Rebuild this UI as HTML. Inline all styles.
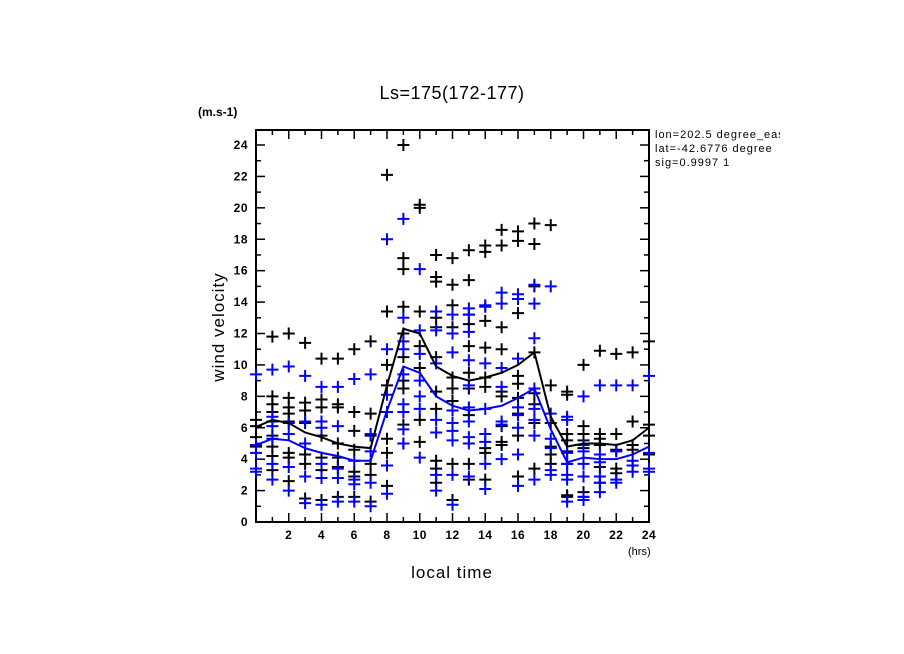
<!DOCTYPE html>
<html><head><meta charset="utf-8"><style>
html,body{margin:0;padding:0;background:#fff;width:904px;height:654px;overflow:hidden}
svg{display:block;font-family:"Liberation Sans",sans-serif}
</style></head><body>
<svg id="chart" width="904" height="654" viewBox="0 0 904 654">
<text x="452" y="99" font-size="18" letter-spacing="0.5" text-anchor="middle">Ls=175(172-177)</text>
<text x="198" y="116" font-size="12" font-weight="bold">(m.s-1)</text>
<svg x="652" y="124" width="128" height="50" overflow="hidden">
<text x="3" y="14" font-size="11" letter-spacing="1">lon=202.5 degree_east</text>
<text x="3" y="28" font-size="11" letter-spacing="1">lat=-42.6776 degree</text>
<text x="3" y="42" font-size="11" letter-spacing="1">sig=0.9997 1</text>
</svg>
<text x="628" y="555" font-size="11">(hrs)</text>
<text x="452" y="578" font-size="17" letter-spacing="1" text-anchor="middle">local time</text>
<text x="0" y="0" font-size="17" letter-spacing="1" text-anchor="middle" transform="translate(224,327) rotate(-90)">wind velocity</text>
<g id="axes"></g><g id="marks"></g>
</svg>
<script>
const hours=[0,1,2,3,4,5,6,7,8,9,10,11,12,13,14,15,16,17,18,19,20,21,22,23,24];
const blackMean=[6.05,6.5,6.3,5.7,5.4,5.0,4.8,4.7,8.7,12.3,12.0,9.9,9.3,9.0,9.2,9.5,10.0,10.8,6.7,4.8,5.0,5.0,4.9,5.2,6.0];
const blueMean=[4.9,5.3,5.2,4.7,4.4,4.2,3.9,3.9,7.1,9.9,9.5,8.0,7.4,7.1,7.2,7.4,7.9,8.5,5.9,3.8,4.1,4.0,4.0,4.3,4.8];
const blackPts=[
[6.5,6.1,5.4,4.8],[11.8,8.0,7.5,7.0,6.4,5.5,4.8,4.2,3.3],[12.0,7.9,7.3,6.9,6.4,4.4,4.1,2.6],[11.4,7.6,7.1,6.3,4.3,3.7,1.5],
[10.4,7.8,7.3,5.5,4.1,3.3,1.4],[10.4,7.5,7.3,5.0,4.1,3.5,1.6],[11.0,7.0,5.8,4.6,3.2,2.9,1.6],[11.5,6.9,5.5,3.7,3.0,1.3],
[22.1,13.4,10.0,8.7,5.3,4.4,2.3],[24.0,16.8,16.1,13.7,12.0,10.5,9.0,8.5,6.2,5.0],[20.2,20.0,13.4,11.2,9.8,6.5,5.1],
[17.0,15.6,15.3,13.0,12.4,10.5,8.3,7.2,3.9,3.4,2.5],[16.8,15.1,13.8,12.4,9.2,8.5,7.7,3.7,1.4],[17.3,15.4,13.2,12.6,11.2,9.5,8.5,6.8,3.7,2.7],
[17.6,17.2,12.8,11.1,9.2,8.6,4.7,4.4,2.7],[18.6,17.6,12.4,11.0,8.3,8.0,6.1,5.1,4.9],[18.5,17.9,13.3,9.3,8.8,7.9,6.9,5.5,2.9],
[19.0,17.7,15.0,10.8,8.2,7.5,6.3,3.4],[18.9,8.7,6.3,4.8,4.3,3.7],[8.3,8.1,5.6,5.2,4.5,3.7,1.7,1.6],[10.0,6.1,5.6,5.2,4.7,1.9,1.6],
[10.9,5.6,5.3,4.9,3.5,2.5],[10.7,5.6,4.6,3.4,3.1],[10.8,6.4,4.9,4.6,3.6],[11.5,6.2,5.5,4.3]];
const bluePts=[
[9.4,4.9,4.4,3.4,3.2],[9.7,6.7,6.1,5.3,3.7,2.7],[9.9,6.3,5.6,3.5,2.0],[9.3,6.4,5.0,2.9,1.2],[8.6,6.4,6.0,3.7,2.8,1.1],
[8.6,6.1,3.4,2.8,1.3],[9.1,3.9,2.7,2.4,1.3],[9.4,5.6,4.5,2.5,1.0],[18.0,11.0,8.1,7.0,3.6,1.8],[19.3,13.0,11.5,11.0,9.4,7.5,7.0,5.9,5.0],
[16.1,12.2,10.7,9.0,8.0,7.2,4.1],[13.4,12.2,10.1,6.5,5.7,3.0,2.0],[13.2,12.0,10.8,7.1,6.3,5.8,5.2,3.0,1.1],[13.6,13.2,12.1,10.3,8.7,7.3,6.4,5.4,5.0,2.9],
[13.8,13.7,10.1,7.2,5.6,5.1,3.7,2.1],[14.6,13.9,9.8,8.6,6.4,6.2,4.0],[14.5,14.2,10.4,7.3,6.8,6.0,4.3,2.3],[15.1,13.9,11.7,8.5,7.2,6.5,5.5,2.7],
[15.0,6.9,5.3,4.7,3.3,3.0],[6.7,6.5,4.4,3.7,3.0,2.7,1.3],[8.0,4.9,4.5,3.7,2.9,1.6,1.4],[8.7,4.3,3.8,2.9,2.5,1.9],[8.7,4.5,2.7,2.5],
[8.7,3.9,3.6,3.2],[9.3,4.4,3.4,3.2]];
const yTicks=[0,2,4,6,8,10,12,14,16,18,20,22,24];
const xTickLabels=[2,4,6,8,10,12,14,16,18,20,22,24];
const L=256,R=649,T=130,B=522;
const sx=h=>L+(R-L)*h/24, sy=v=>B-(B-145)*v/24;
const NS="http://www.w3.org/2000/svg";
function mk(tag,attrs,parent){const e=document.createElementNS(NS,tag);for(const k in attrs)e.setAttribute(k,attrs[k]);parent.appendChild(e);return e;}
const ax=document.getElementById('axes'),mg=document.getElementById('marks');
const frame=mk('rect',{x:L,y:T,width:R-L,height:B-T,fill:'none',stroke:'#000','stroke-width':2},ax);


for(let v=0;v<=24;v++){const y=sy(v),len=v%2?5:9;
 mk('line',{x1:L,x2:L+len,y1:y,y2:y,stroke:'#000','stroke-width':1.5},ax);
 mk('line',{x1:R,x2:R-len,y1:y,y2:y,stroke:'#000','stroke-width':1.5},ax);}
for(let h=0;h<=24;h++){const x=sx(h),len=h%2?5:9;
 mk('line',{x1:x,x2:x,y1:B,y2:B-len,stroke:'#000','stroke-width':1.5},ax);
 mk('line',{x1:x,x2:x,y1:T,y2:T+len,stroke:'#000','stroke-width':1.5},ax);}
yTicks.forEach(v=>{const t=mk('text',{x:L-8,y:sy(v)+4,'font-size':12,'text-anchor':'end','font-weight':'bold','letter-spacing':0.5},ax);t.textContent=v;
 
 });
xTickLabels.forEach(h=>{const t=mk('text',{x:sx(h),y:B+17,'font-size':12,'text-anchor':'middle','font-weight':'bold','letter-spacing':0.5},ax);t.textContent=h;
 
 });
function plus(h,v,color,name){const x=sx(h),y=sy(v);
 const p=mk('path',{d:`M${x-6} ${y}H${x+6}M${x} ${y-6}V${y+6}`,stroke:color,'stroke-width':2,fill:'none'},mg);
 
 }
hours.forEach((h,i)=>{blackPts[i].forEach(v=>plus(h,v,'#000','black-point'));bluePts[i].forEach(v=>plus(h,v,'#0000ff','blue-point'));});
const bl=mk('polyline',{points:hours.map((h,i)=>sx(h)+','+sy(blackMean[i])).join(' '),fill:'none',stroke:'#000','stroke-width':2},mg);


const bu=mk('polyline',{points:hours.map((h,i)=>sx(h)+','+sy(blueMean[i])).join(' '),fill:'none',stroke:'#0000ff','stroke-width':2},mg);


</script>
</body></html>
